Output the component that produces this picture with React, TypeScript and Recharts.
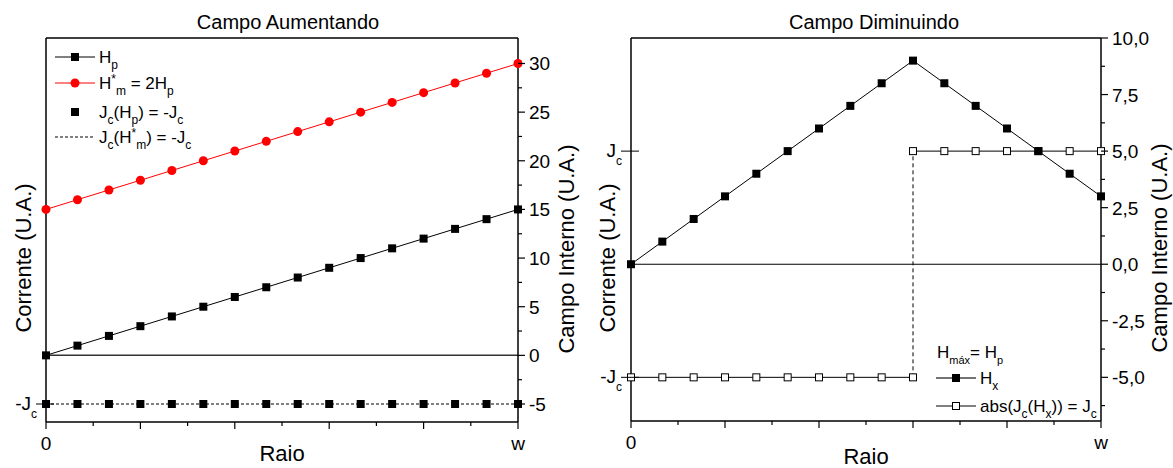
import React from 'react';
import { ComposedChart, Line, XAxis, YAxis, ReferenceLine } from 'recharts';

// radius steps (0 .. w)
const radius = [0, 1, 2, 3, 4, 5, 6, 7, 8, 9, 10, 11, 12, 13, 14, 15];

// Campo Aumentando
const hp = [0, 1, 2, 3, 4, 5, 6, 7, 8, 9, 10, 11, 12, 13, 14, 15];
const hmStar = [15, 16, 17, 18, 19, 20, 21, 22, 23, 24, 25, 26, 27, 28, 29, 30];
const jcHp = [-5, -5, -5, -5, -5, -5, -5, -5, -5, -5, -5, -5, -5, -5, -5, -5];

// Campo Diminuindo
const hx = [0, 1, 2, 3, 4, 5, 6, 7, 8, 9, 8, 7, 6, 5, 4, 3];
const jcInner = [-5, -5, -5, -5, -5, -5, -5, -5, -5, -5, null, null, null, null, null, null];
const jcOuter = [null, null, null, null, null, null, null, null, null, 5, 5, 5, 5, 5, 5, 5];
const jumpR = [9, 9];
const jumpJ = [-5, 5];

const xTicks = [0, 1.5, 3, 4.5, 6, 7.5, 9, 10.5, 12, 13.5, 15];
const leftRightTicks = [-5, -2.5, 0, 2.5, 5, 7.5, 10, 12.5, 15, 17.5, 20, 22.5, 25, 27.5, 30];
const rightRightTicks = [-6.25, -5, -3.75, -2.5, -1.25, 0, 1.25, 2.5, 3.75, 5, 6.25, 7.5, 8.75, 10];
const leftDomain = [-6.85, 32.62];
const rightDomain = [-6.93, 10];

const leftRows = radius.map((r, i) => ({ r, hp: hp[i], hm: hmStar[i], jc: jcHp[i] }));
const rightRows = radius.map((r, i) => ({ r, hx: hx[i], jin: jcInner[i], jout: jcOuter[i] }));
const jumpRows = jumpR.map((r, i) => ({ r, j: jumpJ[i] }));

const FONT = '"Liberation Sans", Arial, sans-serif';

// text with sub/superscripts: [text, 'n' | 'sub' | 'sup']
type Part = [string, 'n' | 'sub' | 'sup'];
const rich = (parts: Part[], small = 12) => {
  let shift = 0;
  return parts.map(([t, k], i) => {
    const target = k === 'sub' ? 6 : k === 'sup' ? -6 : 0;
    const dy = target - shift;
    shift = target;
    return (
      <tspan key={i} dy={dy} fontSize={k === 'n' ? undefined : small}>
        {t}
      </tspan>
    );
  });
};

const XTick = (props: any) => {
  const { x, y, payload } = props;
  const v = payload.value;
  const major = v % 3 === 0;
  const label = v === 0 ? '0' : v === 15 ? 'w' : '';
  return (
    <g>
      <line x1={x} y1={y} x2={x} y2={y + (major ? 7 : 4)} stroke="#000" strokeWidth={1.2} />
      {label && (
        <text x={x} y={y + 28} textAnchor="middle" fontSize={19} fontFamily={FONT} fill="#000">
          {label}
        </text>
      )}
    </g>
  );
};

const makeRightTick = (step: number, fmt: (v: number) => string) => (props: any) => {
  const { x, y, payload } = props;
  const v = payload.value;
  const major = Math.abs(v / step - Math.round(v / step)) < 1e-6;
  return (
    <g>
      <line x1={x} y1={y} x2={x + (major ? 7 : 4)} y2={y} stroke="#000" strokeWidth={1.2} />
      {major && (
        <text x={x + 11} y={y + 7} fontSize={19} fontFamily={FONT} fill="#000">
          {fmt(v)}
        </text>
      )}
    </g>
  );
};

const LeftTick5 = makeRightTick(5, (v) => String(v));
const RightTick25 = makeRightTick(2.5, (v) => v.toFixed(1).replace('.', ','));

const JcTick = (props: any) => {
  const { x, y, payload } = props;
  const neg = payload.value < 0;
  return (
    <g>
      <line x1={x - 10} y1={y} x2={x + 8} y2={y} stroke="#000" strokeWidth={1} />
      <text x={x - 9} y={y + 6} textAnchor="end" fontSize={19} fontFamily={FONT} fill="#000">
        {neg ? '-J' : 'J'}
        <tspan dy={8} fontSize={12}>c</tspan>
      </text>
    </g>
  );
};

const filledSquare = (size: number) => (p: any) => {
  if (p.cy == null || p.value == null) return <g key={`d${p.index}`} />;
  return <rect key={`d${p.index}`} x={p.cx - size / 2} y={p.cy - size / 2} width={size} height={size} fill="#000" />;
};
const openSquare = (p: any) => {
  if (p.cy == null || p.value == null) return <g key={`o${p.index}`} />;
  return <rect key={`o${p.index}`} x={p.cx - 3.5} y={p.cy - 3.5} width={7} height={7} fill="#fff" stroke="#000" strokeWidth={1} />;
};
const redDot = (p: any) => <circle key={`c${p.index}`} cx={p.cx} cy={p.cy} r={4.5} fill="#ff0000" />;

const axisLine = { stroke: '#000', strokeWidth: 1.5 };

export default function App() {
  return (
    <div style={{ position: 'absolute', left: 0, top: 0, width: 1173, height: 468, background: '#fff' }}>
      <div style={{ position: 'absolute', left: 0, top: 0 }}>
        <ComposedChart width={585} height={468} data={leftRows} margin={{ top: 38, right: 0, bottom: 0, left: 0 }}>
          <XAxis dataKey="r" type="number" domain={[0, 15]} ticks={xTicks} interval={0} height={46}
            tickSize={0} tickMargin={0} tickLine={false} axisLine={axisLine} tick={<XTick />} />
          <YAxis yAxisId="L" orientation="left" type="number" domain={leftDomain} allowDataOverflow ticks={[-5]}
            width={46} tickSize={0} tickMargin={0} tickLine={false} axisLine={axisLine} tick={<JcTick />} />
          <YAxis yAxisId="R" orientation="right" type="number" domain={leftDomain} allowDataOverflow ticks={leftRightTicks}
            interval={0} width={67} tickSize={0} tickMargin={0} tickLine={false} axisLine={axisLine} tick={<LeftTick5 />} />
          <ReferenceLine yAxisId="R" y={leftDomain[1]} stroke="#000" strokeWidth={1.5} ifOverflow="visible" />
          <ReferenceLine yAxisId="R" y={0} stroke="#333" strokeWidth={1.5} />
          <Line yAxisId="L" dataKey="jc" stroke="#000" strokeWidth={1} strokeDasharray="3 2" dot={false} isAnimationActive={false} />
          <Line yAxisId="L" dataKey="jc" stroke="none" dot={filledSquare(8)} isAnimationActive={false} />
          <Line yAxisId="R" dataKey="hm" stroke="#ff0000" strokeWidth={1} dot={redDot} isAnimationActive={false} />
          <Line yAxisId="R" dataKey="hp" stroke="#000" strokeWidth={1} dot={filledSquare(8)} isAnimationActive={false} />
        </ComposedChart>
      </div>

      <div style={{ position: 'absolute', left: 585, top: 0 }}>
        <ComposedChart width={588} height={468} data={rightRows} margin={{ top: 38, right: 0, bottom: 0, left: 0 }}>
          <XAxis dataKey="r" type="number" domain={[0, 15]} ticks={xTicks} interval={0} height={47}
            tickSize={0} tickMargin={0} tickLine={false} axisLine={axisLine} tick={<XTick />} />
          <YAxis yAxisId="L" orientation="left" type="number" domain={rightDomain} allowDataOverflow ticks={[-5, 5]}
            width={46} tickSize={0} tickMargin={0} tickLine={false} axisLine={axisLine} tick={<JcTick />} />
          <YAxis yAxisId="R" orientation="right" type="number" domain={rightDomain} allowDataOverflow ticks={rightRightTicks}
            interval={0} width={72} tickSize={0} tickMargin={0} tickLine={false} axisLine={axisLine} tick={<RightTick25 />} />
          <ReferenceLine yAxisId="R" y={rightDomain[1]} stroke="#000" strokeWidth={1.5} ifOverflow="visible" />
          <ReferenceLine yAxisId="R" y={0} stroke="#000" strokeWidth={1.2} />
          <Line yAxisId="L" data={jumpRows} dataKey="j" stroke="#000" strokeWidth={1} strokeDasharray="4 3" dot={false} isAnimationActive={false} />
          <Line yAxisId="L" dataKey="jin" stroke="#000" strokeWidth={1} dot={openSquare} connectNulls={false} isAnimationActive={false} />
          <Line yAxisId="L" dataKey="jout" stroke="#000" strokeWidth={1} dot={openSquare} connectNulls={false} isAnimationActive={false} />
          <Line yAxisId="R" dataKey="hx" stroke="#000" strokeWidth={1} dot={filledSquare(8)} isAnimationActive={false} />
        </ComposedChart>
      </div>

      <svg width={1173} height={468} style={{ position: 'absolute', left: 0, top: 0, pointerEvents: 'none' }}
        fontFamily={FONT} fill="#000">
        {/* titles */}
        <text x={288} y={29} textAnchor="middle" fontSize={20}>Campo Aumentando</text>
        <text x={874} y={29} textAnchor="middle" fontSize={20}>Campo Diminuindo</text>

        {/* axis titles */}
        <text transform="translate(23,258) rotate(-90)" textAnchor="middle" dy="0.35em" fontSize={22}>Corrente (U.A.)</text>
        <text transform="translate(566,249) rotate(-90)" textAnchor="middle" dy="0.35em" fontSize={22}>Campo Interno (U.A.)</text>
        <text transform="translate(607,258) rotate(-90)" textAnchor="middle" dy="0.35em" fontSize={22}>Corrente (U.A.)</text>
        <text transform="translate(1159,248) rotate(-90)" textAnchor="middle" dy="0.35em" fontSize={22}>Campo Interno (U.A.)</text>
        <text x={282} y={461} textAnchor="middle" fontSize={22}>Raio</text>
        <text x={866} y={464} textAnchor="middle" fontSize={22}>Raio</text>

        {/* left legend */}
        <line x1={55} x2={95} y1={57} y2={57} stroke="#000" strokeWidth={1} />
        <rect x={71} y={53} width={8} height={8} fill="#000" />
        <text x={99} y={63} fontSize={17}>{rich([['H', 'n'], ['p', 'sub']])}</text>

        <line x1={55} x2={95} y1={83} y2={83} stroke="#ff0000" strokeWidth={1} />
        <circle cx={75} cy={83} r={4.5} fill="#ff0000" />
        <text x={99} y={89} fontSize={17}>
          {rich([['H', 'n'], ['*', 'sup'], ['m', 'sub'], [' = 2H', 'n'], ['p', 'sub']])}
        </text>

        <rect x={71} y={108} width={8} height={8} fill="#000" />
        <text x={99} y={118} fontSize={17}>
          {rich([['J', 'n'], ['c', 'sub'], ['(H', 'n'], ['p', 'sub'], [') = -J', 'n'], ['c', 'sub']])}
        </text>

        <line x1={55} x2={95} y1={137} y2={137} stroke="#000" strokeWidth={1} strokeDasharray="3 2" />
        <text x={99} y={143} fontSize={17}>
          {rich([['J', 'n'], ['c', 'sub'], ['(H', 'n'], ['*', 'sup'], ['m', 'sub'], [') = -J', 'n'], ['c', 'sub']])}
        </text>

        {/* right legend */}
        <text x={937} y={358} fontSize={17}>
          {rich([['H', 'n'], ['máx', 'sub'], ['= H', 'n'], ['p', 'sub']], 11)}
        </text>
        <line x1={936} x2={976} y1={378} y2={378} stroke="#444" strokeWidth={1.5} />
        <rect x={952} y={374} width={8} height={8} fill="#000" />
        <text x={980} y={384} fontSize={17}>{rich([['H', 'n'], ['x', 'sub']])}</text>

        <line x1={936} x2={976} y1={406} y2={406} stroke="#000" strokeWidth={1} />
        <rect x={952.5} y={402.5} width={7} height={7} fill="#fff" stroke="#000" strokeWidth={1} />
        <text x={980} y={412} fontSize={17}>
          {rich([['abs(J', 'n'], ['c', 'sub'], ['(H', 'n'], ['x', 'sub'], [')) = J', 'n'], ['c', 'sub']])}
        </text>
      </svg>
    </div>
  );
}
